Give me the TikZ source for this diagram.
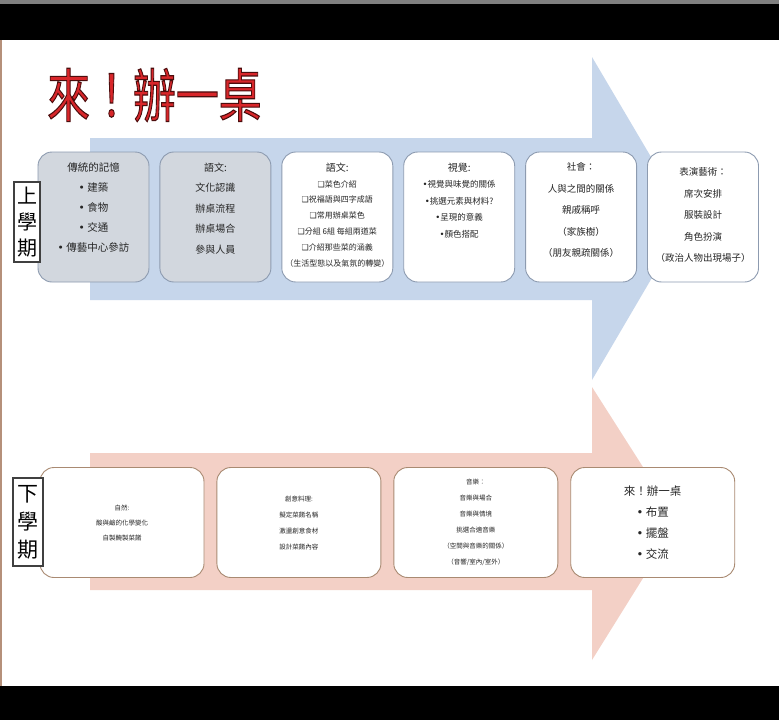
\documentclass[tikz,border=0pt]{standalone}
\usepackage{fontspec}
\usepackage{xcolor}
\usepackage{tikz}
\usetikzlibrary{positioning}
\setmainfont{Noto Sans CJK TC}
\newfontfamily\symfont{DejaVu Sans}
\newfontfamily\titlefont[FakeBold=2]{Noto Sans CJK TC}
\newcommand{\blt}{{\symfont •}}
\newcommand{\sqb}{{\symfont ❑}}
\definecolor{arrowblue}{HTML}{C6D6EB}
\definecolor{arrowpink}{HTML}{F3D0C6}
\definecolor{boxgrey}{HTML}{D2D7DE}
\definecolor{edgeblue}{HTML}{8D9BB0}
\definecolor{edgebrown}{HTML}{A98A72}
\definecolor{titlered}{HTML}{D8262A}
\definecolor{inkgrey}{HTML}{262626}
\definecolor{frameline}{HTML}{B5907A}
\tikzset{
  topbox/.style={draw=edgeblue, line width=0.9pt, rounded corners=14pt, minimum width=111pt, minimum height=130pt, inner sep=0pt},
  botbox/.style={draw=edgebrown, line width=0.9pt, rounded corners=14pt, fill=white, minimum width=164pt, minimum height=110pt, align=center, text=inkgrey},
  boxtext/.style={align=center, text=inkgrey, inner sep=0pt},
  termbox/.style={draw=black!75, line width=1.2pt, fill=white, align=center, inner sep=0pt}
}

\begin{document}
\begin{tikzpicture}[x=1pt, y=-1pt]
  \useasboundingbox (0,0) rectangle (779,720);

  % Screen frame
  \fill[white] (0,0) rectangle (779,720);
  \fill[gray] (0,0) rectangle (779,4);
  \fill[black] (0,4) rectangle (779,40);
  \fill[black] (0,686) rectangle (779,720);
  \draw[frameline, line width=1.5pt] (1,40) -- (1,686);

  % Big arrows behind the boxes
  \fill[arrowblue] (90,138) -- (592,138) -- (592,57) -- (687,218) -- (592,380) -- (592,300) -- (90,300) -- cycle;
  \fill[arrowpink] (90,453) -- (592,453) -- (592,387) -- (678,522) -- (592,660) -- (592,590) -- (90,590) -- cycle;

  % Title
  \node[anchor=west, inner sep=0pt, xscale=0.74, font=\titlefont\fontsize{58}{58}\selectfont] (title) at (47,95) {\color{titlered}\special{pdf:code 0.30 0.05 0.05 RG}來！辦一桌};

  % First term: boxes
  \node[topbox, fill=boxgrey] (top1) at (93.5,217) {};
  \node[topbox, fill=boxgrey, right=10pt of top1] (top2) {};
  \node[topbox, fill=white, right=10pt of top2] (top3) {};
  \node[topbox, fill=white, right=10pt of top3] (top4) {};
  \node[topbox, fill=white, right=10pt of top4] (top5) {};
  \node[topbox, fill=white, right=10pt of top5] (top6) {};

  % First term: texts
  \node[boxtext, below=11pt of top1.north, font=\fontsize{10.5}{20}\selectfont] (txt1) {傳統的記憶\\\blt\ 建築\\\blt\ 食物\\\blt\ 交通\\\blt\ 傳藝中心參訪};
  \node[boxtext, below=11pt of top2.north, font=\fontsize{10}{20.5}\selectfont] (txt2) {語文:\\文化認識\\辦桌流程\\辦桌場合\\參與人員};
  \node[boxtext, below=11pt of top3.north, font=\fontsize{8}{15.8}\selectfont] (txt3) {{\fontsize{10}{15.8}\selectfont 語文:}\\\sqb 菜色介紹\\\sqb 祝福語與四字成語\\\sqb 常用辦桌菜色\\\sqb 分組 6組 每組兩道菜\\\sqb 介紹那些菜的涵義\\（生活型態以及氣氛的轉變）};
  \node[boxtext, below=11pt of top4.north, font=\fontsize{8.5}{16.5}\selectfont] (txt4) {{\fontsize{10}{16.5}\selectfont 視覺:}\\\blt 視覺與味覺的關係\\\blt 挑選元素與材料?\\\blt 呈現的意義\\\blt 顏色搭配};
  \node[boxtext, below=11pt of top5.north, font=\fontsize{9.5}{21.5}\selectfont] (txt5) {社會：\\人與之間的關係\\親戚稱呼\\（家族樹）\\（朋友親疏關係）};
  \node[boxtext, below=16pt of top6.north, font=\fontsize{9.5}{21.5}\selectfont] (txt6) {表演藝術：\\席次安排\\服裝設計\\角色扮演\\（政治人物出現場子）};

  % Second term: boxes with texts
  \node[botbox, font=\fontsize{6.5}{15}\selectfont] (bot1) at (122,522.5) {自然:\\酸與鹼的化學變化\\自製醃製菜餚};
  \node[botbox, right=12pt of bot1, font=\fontsize{6.5}{16}\selectfont] (bot2) {創意料理:\\擬定菜餚名稱\\激盪創意食材\\設計菜餚內容};
  \node[botbox, right=12pt of bot2, font=\fontsize{6.5}{16}\selectfont] (bot3) {音樂：\\音樂與場合\\音樂與情境\\挑選合適音樂\\（空間與音樂的關係）\\（音響/室內/室外）};
  \node[botbox, right=12pt of bot3, font=\fontsize{11.5}{21}\selectfont] (bot4) {來！辦一桌\\\blt\ 布置\\\blt\ 擺盤\\\blt\ 交流};

  % Term labels
  \node[termbox, minimum width=26pt, minimum height=80pt, font=\fontsize{20}{26}\selectfont] (upper) at (27,222) {上\\學\\期};
  \node[termbox, minimum width=30pt, minimum height=88pt, font=\fontsize{21}{28}\selectfont] (lower) at (28,522) {下\\學\\期};
\end{tikzpicture}
\end{document}
